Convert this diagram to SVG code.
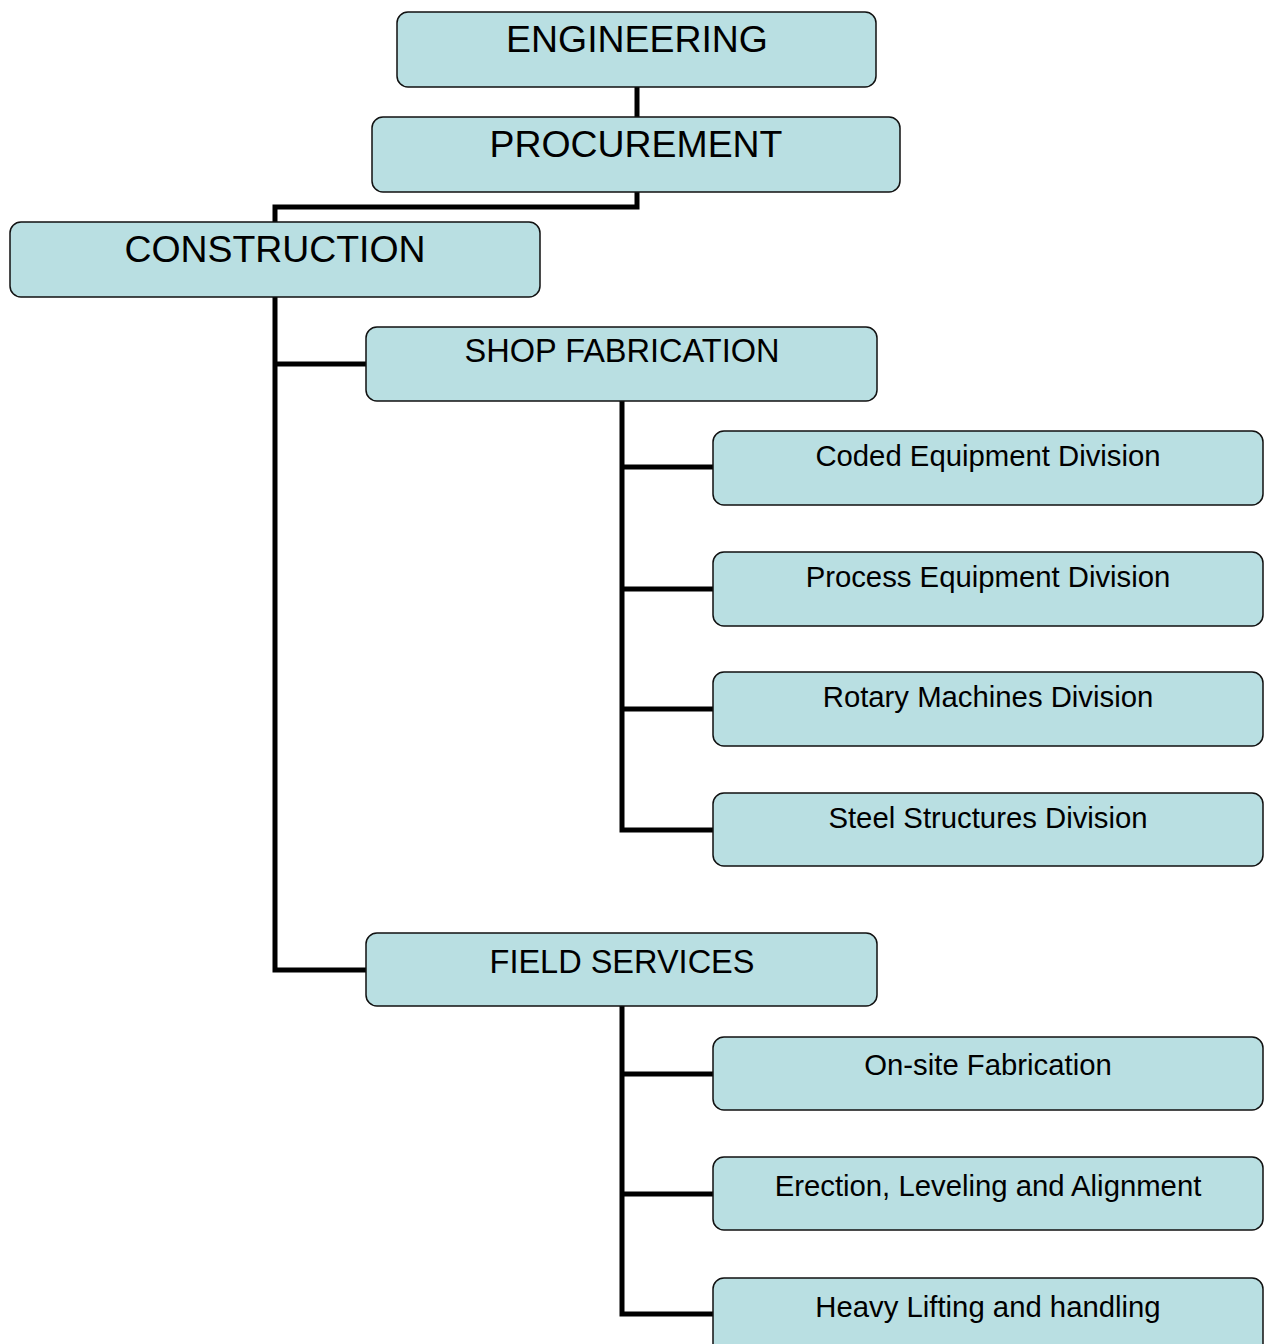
<svg xmlns="http://www.w3.org/2000/svg" width="1266" height="1344" viewBox="0 0 1266 1344">
<style>
.box{fill:#B9DFE2;stroke:#111;stroke-width:1.5}
.t{font-family:"Liberation Sans",Arial,sans-serif;fill:#000;text-anchor:middle}
.l{font-size:37.4px}.m{font-size:32.5px}.s{font-size:29.3px}
.c{fill:none;stroke:#000;stroke-width:5}
</style>
<rect width="1266" height="1344" fill="#fff"/>
<g id="connectors">
<path class="c" d="M637 87V117"/>
<path class="c" d="M637 192V207H275V222"/>
<path class="c" d="M275 297V970H366M275 364H366"/>
<path class="c" d="M622 401V830H713M622 467H713M622 589H713M622 709H713"/>
<path class="c" d="M622 1006V1314H713M622 1074H713M622 1194H713"/>
</g>
<g id="engineering"><rect class="box" x="397" y="12" width="479" height="75" rx="11"/><text class="t l" x="637" y="52">ENGINEERING</text></g>
<g id="procurement"><rect class="box" x="372" y="117" width="528" height="75" rx="11"/><text class="t l" x="636" y="157">PROCUREMENT</text></g>
<g id="construction"><rect class="box" x="10" y="222" width="530" height="75" rx="11"/><text class="t l" x="275" y="262">CONSTRUCTION</text></g>
<g id="shop"><rect class="box" x="366" y="327" width="511" height="74" rx="11"/><text class="t m" x="622" y="362">SHOP FABRICATION</text></g>
<g id="coded"><rect class="box" x="713" y="431" width="550" height="74" rx="11"/><text class="t s" x="988" y="466">Coded Equipment Division</text></g>
<g id="process"><rect class="box" x="713" y="552" width="550" height="74" rx="11"/><text class="t s" x="988" y="587">Process Equipment Division</text></g>
<g id="rotary"><rect class="box" x="713" y="672" width="550" height="74" rx="11"/><text class="t s" x="988" y="707">Rotary Machines Division</text></g>
<g id="steel"><rect class="box" x="713" y="793" width="550" height="73" rx="11"/><text class="t s" x="988" y="828">Steel Structures Division</text></g>
<g id="field"><rect class="box" x="366" y="933" width="511" height="73" rx="11"/><text class="t m" x="622" y="973">FIELD SERVICES</text></g>
<g id="onsite"><rect class="box" x="713" y="1037" width="550" height="73" rx="11"/><text class="t s" x="988" y="1075">On-site Fabrication</text></g>
<g id="erection"><rect class="box" x="713" y="1157" width="550" height="73" rx="11"/><text class="t s" x="988" y="1196">Erection, Leveling and Alignment</text></g>
<g id="heavy"><rect class="box" x="713" y="1278" width="550" height="80" rx="11"/><text class="t s" x="988" y="1317">Heavy Lifting and handling</text></g>
</svg>
